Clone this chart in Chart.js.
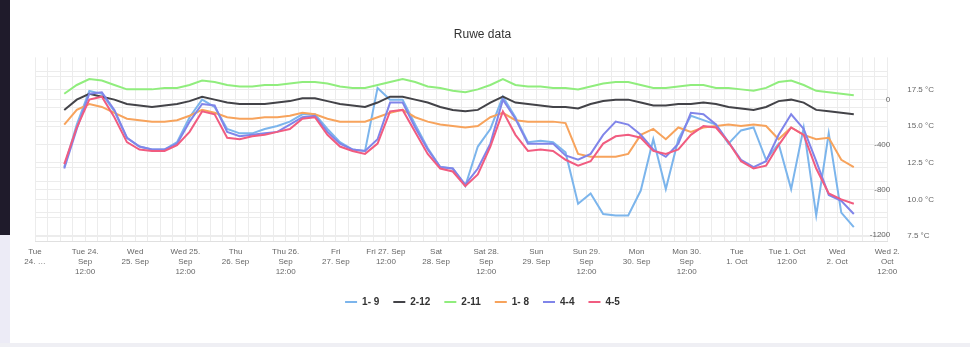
<!DOCTYPE html>
<html>
<head>
    <meta charset="UTF-8">
    <title>Ruwe data</title>
    <script src="https://cdn.jsdelivr.net/npm/chart.js"></script>
    <style>
        body { margin: 0; background: #ffffff; }
        #side { position: absolute; left: 0; top: 0; width: 10px; height: 235px; background: #1f1b2b; }
        #sideLow { position: absolute; left: 0; top: 235px; width: 10px; height: 112px; background: #ecebf6; }
        #foot { position: absolute; left: 0; top: 343px; width: 970px; height: 4px; background: #efeff4; }
        #box { position: absolute; left: 10px; top: 0; width: 960px; height: 343px; background: #fff; }
    </style>
</head>
<body>
<div id="side"></div>
<div id="sideLow"></div>
<div id="foot"></div>
<div id="box"><canvas id="chart"></canvas></div>

<script>
    // uren sinds di 24 sep 00:00
    var hours = [7, 10, 13, 16, 19, 22, 25, 28, 31, 34, 37, 40, 43, 46, 49, 52,
        55, 58, 61, 64, 67, 70, 73, 76, 79, 82, 85, 88, 91, 94, 97, 100,
        103, 106, 109, 112, 115, 118, 121, 124, 127, 130, 133, 136, 139, 142, 145, 148,
        151, 154, 157, 160, 163, 166, 169, 172, 175, 178, 181, 184, 187, 190, 193, 196];

    // temperaturen (°C)
    var s1_9 = [12.2, 15.1, 17.4, 17.2, 16.0, 14.2, 13.6, 13.4, 13.4, 13.9, 15.6, 16.8, 16.3, 14.8, 14.5, 14.5,
        14.8, 15.0, 15.3, 15.8, 15.8, 14.8, 13.9, 13.4, 13.3, 17.6, 16.8, 16.8, 15.1, 13.5, 12.2, 12.1,
        10.9, 13.6, 14.8, 17.0, 15.6, 13.9, 14.0, 13.9, 13.2, 9.7, 10.4, 9.0, 8.9, 8.9, 10.6, 14.1,
        10.7, 14.1, 15.7, 15.4, 15.1, 13.8, 14.7, 14.9, 12.7, 13.8, 10.7, 14.9, 8.9, 14.5, 9.1, 8.1];
    var s2_12 = [16.1, 16.8, 17.2, 17.0, 16.8, 16.5, 16.4, 16.3, 16.4, 16.5, 16.7, 17.0, 16.8, 16.6, 16.5, 16.5,
        16.5, 16.6, 16.7, 16.9, 16.9, 16.7, 16.5, 16.4, 16.3, 16.6, 17.0, 17.0, 16.8, 16.6, 16.3, 16.1,
        16.0, 16.1, 16.6, 17.0, 16.6, 16.5, 16.4, 16.3, 16.3, 16.2, 16.5, 16.7, 16.8, 16.8, 16.6, 16.4,
        16.4, 16.5, 16.5, 16.6, 16.5, 16.3, 16.2, 16.1, 16.3, 16.7, 16.8, 16.6, 16.1, 16.0, 15.9, 15.8];
    var s2_11 = [17.2, 17.8, 18.2, 18.1, 17.8, 17.5, 17.5, 17.5, 17.6, 17.6, 17.8, 18.1, 18.0, 17.8, 17.7, 17.7,
        17.8, 17.8, 17.9, 18.0, 18.0, 17.9, 17.7, 17.6, 17.6, 17.8, 18.0, 18.2, 18.0, 17.7, 17.6, 17.4,
        17.3, 17.5, 17.8, 18.2, 17.8, 17.7, 17.7, 17.6, 17.6, 17.5, 17.7, 17.9, 18.0, 18.0, 17.8, 17.6,
        17.6, 17.7, 17.8, 17.8, 17.6, 17.6, 17.5, 17.4, 17.6, 18.0, 18.1, 17.8, 17.4, 17.3, 17.2, 17.1];
    var s1_8 = [15.1, 16.1, 16.5, 16.3, 15.9, 15.5, 15.4, 15.3, 15.3, 15.4, 15.7, 16.1, 15.9, 15.6, 15.5, 15.5,
        15.6, 15.6, 15.7, 15.9, 15.8, 15.5, 15.3, 15.3, 15.3, 15.6, 15.9, 16.1, 15.6, 15.3, 15.1, 15.0,
        14.9, 15.0, 15.6, 15.9, 15.4, 15.3, 15.3, 15.3, 15.2, 13.1, 12.9, 12.9, 12.9, 13.1, 14.4, 14.8,
        14.1, 14.9, 14.6, 14.9, 15.0, 15.1, 15.0, 15.1, 15.0, 14.1, 14.9, 14.4, 14.1, 14.2, 12.7, 12.2];
    var s4_4 = [12.1, 14.8, 17.2, 17.3, 16.1, 14.2, 13.6, 13.4, 13.4, 13.8, 15.3, 16.5, 16.4, 14.6, 14.3, 14.4,
        14.5, 14.6, 15.1, 15.6, 15.7, 14.6, 13.8, 13.4, 13.3, 14.1, 16.6, 16.6, 14.9, 13.4, 12.2, 12.1,
        11.0, 12.1, 13.8, 16.8, 15.5, 13.8, 13.8, 13.8, 13.0, 12.7, 13.1, 14.4, 15.3, 15.1, 14.4, 13.4,
        12.9, 13.8, 15.9, 15.8, 15.1, 13.9, 12.7, 12.2, 12.6, 14.4, 15.8, 14.8, 12.6, 10.3, 9.9, 9.0];
    var s4_5 = [12.4, 14.9, 16.8, 17.0, 15.6, 13.9, 13.4, 13.3, 13.3, 13.7, 14.6, 16.0, 15.8, 14.2, 14.1, 14.3,
        14.4, 14.6, 14.8, 15.5, 15.6, 14.4, 13.6, 13.3, 13.1, 13.8, 16.0, 16.1, 14.6, 13.1, 12.1, 11.9,
        10.9, 11.7, 13.6, 16.0, 14.4, 13.3, 13.4, 13.3, 12.7, 12.3, 12.6, 13.8, 14.3, 14.4, 14.2, 13.3,
        13.1, 13.4, 14.4, 15.0, 14.9, 13.9, 12.6, 12.1, 12.3, 13.7, 14.9, 14.4, 12.1, 10.4, 10.0, 9.7];

    var seriesNames = ['1- 9', '2-12', '2-11', '1- 8', '4-4', '4-5'];
    var seriesValues = [s1_9, s2_12, s2_11, s1_8, s4_4, s4_5];
    var seriesColors = ['#7cb5ec', '#434348', '#90ed7d', '#f7a35c', '#8085e9', '#f15c80'];

    // labels per 12 uur
    var xTickLabels = [
        ['Tue', '24. …'], ['Tue 24.', 'Sep', '12:00'],
        ['Wed', '25. Sep'], ['Wed 25.', 'Sep', '12:00'],
        ['Thu', '26. Sep'], ['Thu 26.', 'Sep', '12:00'],
        ['Fri', '27. Sep'], ['Fri 27. Sep', '12:00'],
        ['Sat', '28. Sep'], ['Sat 28.', 'Sep', '12:00'],
        ['Sun', '29. Sep'], ['Sun 29.', 'Sep', '12:00'],
        ['Mon', '30. Sep'], ['Mon 30.', 'Sep', '12:00'],
        ['Tue', '1. Oct'], ['Tue 1. Oct', '12:00'],
        ['Wed', '2. Oct'], ['Wed 2.', 'Oct', '12:00']
    ];
    var powerTicks = [0, -400, -800, -1200];
    var tempTicks = [7.5, 10, 12.5, 15, 17.5];

    Chart.defaults.font.family = '"Liberation Sans", Arial, sans-serif';
    Chart.defaults.color = '#666';

    var datasets = [];
    for (var i = 0; i < seriesNames.length; i++) {
        datasets.push({
            label: seriesNames[i],
            data: hours.map(function (h, k) { return {x: h, y: seriesValues[i][k]}; }),
            borderColor: seriesColors[i],
            backgroundColor: seriesColors[i],
            borderWidth: 2,
            pointRadius: 0,
            tension: 0,
            fill: false,
            yAxisID: 'yT',
            order: -i
        });
    }

    var gridColor = '#ececec';

    var ctx = document.getElementById('chart').getContext('2d');
    var chart = new Chart(ctx, {
        type: 'line',
        data: {datasets: datasets},
        options: {
            responsive: true,
            maintainAspectRatio: false,
            animation: false,
            layout: {padding: {left: 7, right: 22, top: 0, bottom: 26}},
            plugins: {
                title: {
                    display: true,
                    text: 'Ruwe data',
                    color: '#333',
                    font: {size: 12, weight: 'normal'},
                    padding: {top: 27, bottom: 16}
                },
                legend: {
                    position: 'bottom',
                    labels: {
                        color: '#333',
                        font: {size: 10, weight: 'bold'},
                        boxWidth: 12,
                        boxHeight: 2,
                        padding: 14,
                        sort: function (a, b) { return a.datasetIndex - b.datasetIndex; },
                        generateLabels: function (c) {
                            var items = Chart.defaults.plugins.legend.labels.generateLabels(c);
                            items.forEach(function (it) { it.fillStyle = it.strokeStyle; it.lineWidth = 0; });
                            return items;
                        }
                    }
                },
                tooltip: {enabled: false}
            },
            scales: {
                x: {
                    type: 'linear',
                    min: 0,
                    max: 204,
                    afterBuildTicks: function (scale) {
                        var t = [];
                        for (var h = 0; h <= 204; h += 3) t.push({value: h});
                        scale.ticks = t;
                    },
                    ticks: {
                        autoSkip: false,
                        maxRotation: 0,
                        minRotation: 0,
                        padding: 6,
                        font: {size: 8, lineHeight: 1.25},
                        callback: function (v) { return v % 12 === 0 ? xTickLabels[v / 12] : ''; }
                    },
                    grid: {color: gridColor, drawTicks: false},
                    border: {color: '#e0e0e0'}
                },
                // lege ruimte links, zodat de titel goed gecentreerd staat
                yL: {
                    position: 'left',
                    min: 0,
                    max: 1,
                    ticks: {display: false},
                    grid: {display: false},
                    border: {display: false},
                    afterFit: function (scale) { scale.width = 18; }
                },
                yP: {
                    position: 'right',
                    weight: 0,
                    min: -1253,
                    max: 371,
                    afterBuildTicks: function (scale) {
                        var t = [];
                        for (var v = -1200; v <= 200; v += 200) t.push({value: v});
                        scale.ticks = t;
                    },
                    ticks: {
                        mirror: true,
                        padding: 3,
                        font: {size: 8},
                        callback: function (v) { return powerTicks.indexOf(v) >= 0 ? String(v) : ''; }
                    },
                    grid: {color: gridColor, drawTicks: false},
                    border: {display: false}
                },
                yT: {
                    position: 'right',
                    weight: 1,
                    min: 7.16,
                    max: 19.68,
                    afterBuildTicks: function (scale) {
                        var t = [];
                        for (var v = 7.5; v <= 19; v += 1.25) t.push({value: v});
                        scale.ticks = t;
                    },
                    ticks: {
                        padding: 14,
                        font: {size: 8},
                        callback: function (v) { return tempTicks.indexOf(v) >= 0 ? v.toFixed(1) + ' °C' : ''; }
                    },
                    grid: {color: gridColor, drawTicks: false},
                    border: {display: false}
                }
            }
        }
    });
</script>
</body>
</html>
